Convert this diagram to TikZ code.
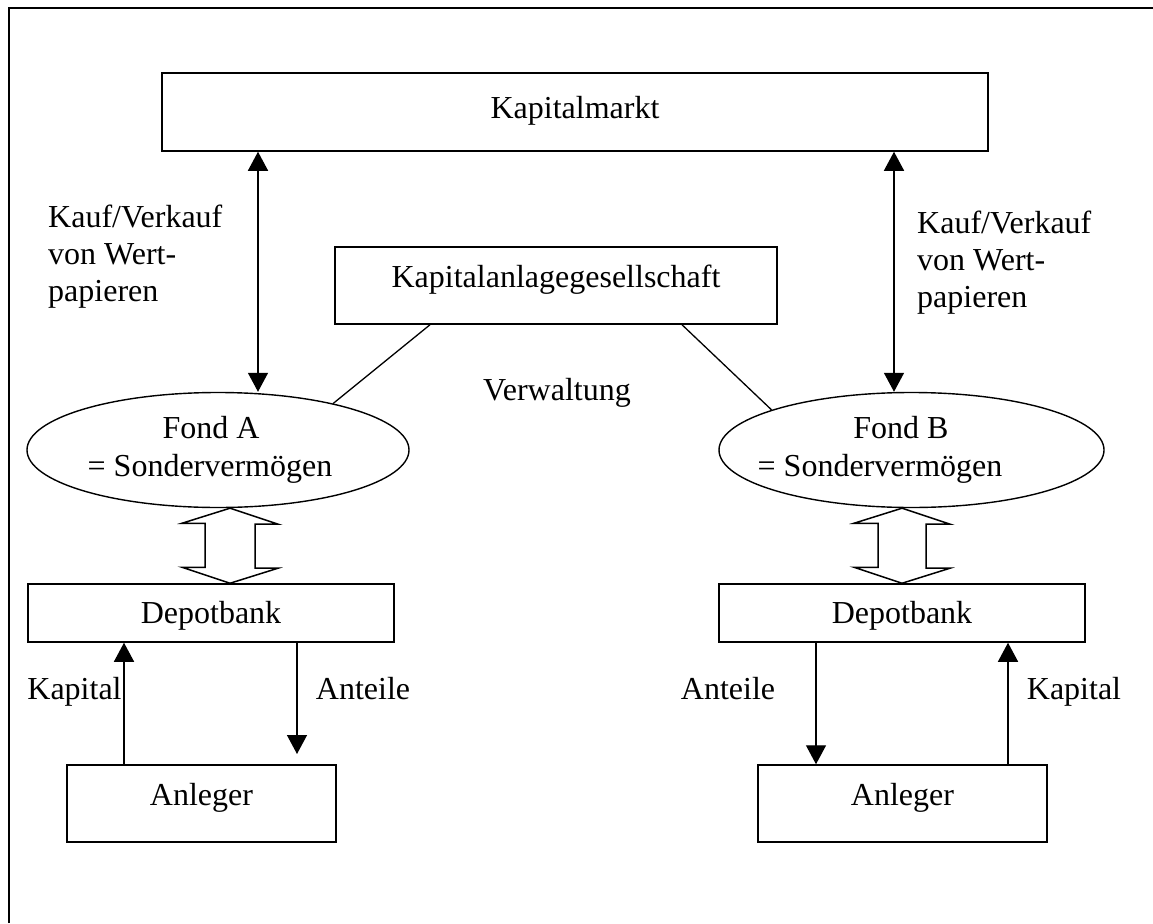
\documentclass[tikz,border=0pt]{standalone}
\usepackage{fontspec}
\setmainfont{Liberation Serif}
\usetikzlibrary{arrows.meta,shapes.geometric}
\tikzset{
  arr/.tip={Triangle[length=19pt,width=20pt]},
  box/.style={draw, line width=1.5pt, rectangle, inner sep=0pt},
  fond/.style={draw, line width=1.4pt, ellipse, inner sep=0pt},
  lbl/.style={inner sep=0pt},
  conn/.style={line width=1.4pt, -arr},
  dconn/.style={line width=1.4pt, arr-arr},
  link/.style={line width=1.3pt},
  hollow/.style={line width=1.5pt, line join=miter},
  frame/.style={line width=2pt}
}
\begin{document}
\begin{tikzpicture}[x=1pt,y=-1pt,font=\fontsize{32}{37}\selectfont]
\useasboundingbox (0,0) rectangle (1153,923);
% outer frame (left and top edges)
\draw[frame] (9,923) -- (9,8) -- (1153,8);

% boxes
\node[box, minimum width=826pt, minimum height=78pt, text height=21pt, text depth=9pt] (km) at (575,112) {Kapitalmarkt};
\node[box, minimum width=442pt, minimum height=77pt, text height=21pt, text depth=18pt] (kag) at (556,285.5) {Kapitalanlagegesellschaft};
\node[fond, minimum width=382pt, minimum height=115pt] (fa) at (218,450) {};
\node[fond, minimum width=385pt, minimum height=115pt] (fb) at (911.5,450) {};
\node[box, minimum width=366pt, minimum height=58pt, text height=24pt, text depth=4pt] (depA) at (211,613) {Depotbank};
\node[box, minimum width=366pt, minimum height=58pt, text height=24pt, text depth=4pt] (depB) at (902,613) {Depotbank};
\node[box, minimum width=269pt, minimum height=77pt, text height=21pt, text depth=18pt] (anlA) at (201.5,803.5) {Anleger};
\node[box, minimum width=289pt, minimum height=77pt, text height=21pt, text depth=18pt] (anlB) at (902.5,803.5) {Anleger};

% texts
\node[lbl, anchor=base] (fat1) at (211,438) {Fond A};
\node[lbl, anchor=base] (fat2) at (210,476) {= Sondervermögen};
\node[lbl, anchor=base] (fbt1) at (901,438) {Fond B};
\node[lbl, anchor=base] (fbt2) at (880,476) {= Sondervermögen};
\node[lbl, anchor=base west] (kaufA) at (48,227) {\begin{tabular}[t]{@{}l@{}}Kauf/Verkauf\\von Wert-\\papieren\end{tabular}};
\node[lbl, anchor=base west] (kaufB) at (917,233) {\begin{tabular}[t]{@{}l@{}}Kauf/Verkauf\\von Wert-\\papieren\end{tabular}};
\node[lbl, anchor=base] (verw) at (557,400) {Verwaltung};
\node[lbl, anchor=base] (kapA) at (74.5,699) {Kapital};
\node[lbl, anchor=base] (antA) at (363,699) {Anteile};
\node[lbl, anchor=base] (antB) at (728,699) {Anteile};
\node[lbl, anchor=base] (kapB) at (1074,699) {Kapital};

% helper coordinates
\coordinate (xa) at (258,0);
\coordinate (xb) at (894,0);
\coordinate (ka) at (430,0);
\coordinate (kb) at (682,0);
\coordinate (ha) at (230,0);
\coordinate (hb) at (902,0);
\coordinate (c1) at (124,0);
\coordinate (a1e) at (297,754);
\coordinate (a2) at (816,0);
\coordinate (c2) at (1008,0);

% Kapitalmarkt <-> Fonds
\draw[dconn] (km.south -| xa) -- (fa.north -| xa);
\draw[dconn] (km.south -| xb) -- (fb.north -| xb);

% Verwaltung links
\draw[link] (kag.south -| ka) -- (fa.22);
\draw[link] (kag.south -| kb) -- (fb.164);

% hollow double arrows
\draw[hollow] (fa.south -| ha) -- ++(48,16) -- ++(-23,0) -- ++(0,44) -- ++(23,0)
  -- (depA.north -| ha) -- ++(-48,-16) -- ++(23,0) -- ++(0,-44) -- ++(-23,0) -- cycle;
\draw[hollow] (fb.south -| hb) -- ++(48,16) -- ++(-24,0) -- ++(0,44) -- ++(24,0)
  -- (depB.north -| hb) -- ++(-48,-16) -- ++(24,0) -- ++(0,-44) -- ++(-24,0) -- cycle;

% Kapital / Anteile
\draw[conn] (anlA.north -| c1) -- (depA.south -| c1);
\draw[conn] (depA.south -| a1e) -- (a1e);
\draw[conn] (depB.south -| a2) -- (anlB.north -| a2);
\draw[conn] (anlB.north -| c2) -- (depB.south -| c2);
\end{tikzpicture}
\end{document}
